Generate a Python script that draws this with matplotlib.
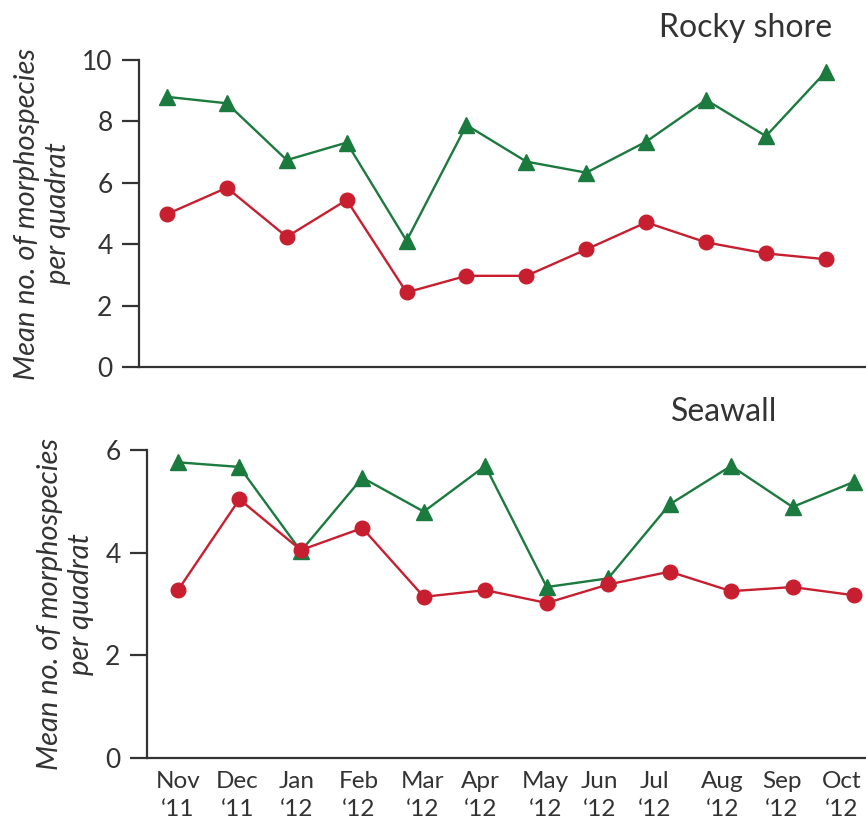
import matplotlib
matplotlib.use("Agg")
import matplotlib.pyplot as plt
import matplotlib.transforms as mtransforms
import numpy as np

months = ["Nov", "Dec", "Jan", "Feb", "Mar", "Apr", "May", "Jun", "Jul", "Aug", "Sep", "Oct"]
years = ["\u201811", "\u201811", "\u201812", "\u201812", "\u201812", "\u201812",
         "\u201812", "\u201812", "\u201812", "\u201812", "\u201812", "\u201812"]

rocky_green = [8.80, 8.59, 6.74, 7.31, 4.11, 7.88, 6.69, 6.33, 7.34, 8.70, 7.52, 9.62]
rocky_red = [4.98, 5.84, 4.24, 5.44, 2.43, 2.97, 2.97, 3.83, 4.71, 4.06, 3.70, 3.51]
seawall_green = [5.76, 5.67, 4.03, 5.46, 4.80, 5.69, 3.33, 3.50, 4.94, 5.69, 4.89, 5.38]
seawall_red = [3.27, 5.04, 4.05, 4.48, 3.14, 3.27, 3.02, 3.38, 3.63, 3.25, 3.33, 3.17]

GREEN = "#1b7a3e"
RED = "#c81f30"
INK = "#333333"

plt.rcParams['font.family'] = ['Lato', 'DejaVu Sans']

fig = plt.figure(figsize=(8.66, 8.21), dpi=100)
ax1 = fig.add_axes([139/866, 1 - 367/821, (866-139)/866, 307/821])
ax2 = fig.add_axes([147/866, 1 - 758/821, (866-147)/866, 308/821])

x = np.arange(len(months))

def style(ax, ymax, yticks, xlim):
    ax.set_xlim(*xlim)
    ax.set_ylim(0, ymax)
    ax.spines['top'].set_visible(False)
    ax.spines['right'].set_visible(False)
    for s in ('left', 'bottom'):
        ax.spines[s].set_color(INK)
        ax.spines[s].set_linewidth(1.6)
    ax.set_yticks(yticks)
    ax.tick_params(axis='y', length=12, width=1.6, color=INK, labelsize=19,
                   labelcolor=INK, pad=7)
    ax.set_ylabel("Mean no. of morphospecies\nper quadrat", fontsize=21,
                  style='italic', color=INK, labelpad=8, linespacing=1.25)

def draw(ax, g, r):
    ax.plot(x, g, color=GREEN, lw=1.7, marker='^', ms=11, mfc=GREEN, mec=GREEN, clip_on=False, zorder=3)
    ax.plot(x, r, color=RED, lw=1.7, marker='o', ms=10.5, mfc=RED, mec=RED, clip_on=False, zorder=4)

draw(ax1, rocky_green, rocky_red)
style(ax1, 10, [0, 2, 4, 6, 8, 10], (-0.467, 11.67))
ax1.set_xticks([])
ax1.text(832, 821 - 28, "Rocky shore", transform=None, ha='right', va='center',
         fontsize=23, color=INK)

draw(ax2, seawall_green, seawall_red)
style(ax2, 6, [0, 2, 4, 6], (-0.504, 11.195))
ax2.set_xticks([])

# two-line month labels under the lower panel; the last few nudged left to stay inside the figure
nudge_px = [0, -2, -4, -4, -1, -5, -1, -9, -15, -9, -11, -12]
base = mtransforms.blended_transform_factory(ax2.transData, fig.transFigure)
for xi, mon, yr, dx in zip(x, months, years, nudge_px):
    tr = base + mtransforms.ScaledTranslation(dx / 100, 0, fig.dpi_scale_trans)
    ax2.text(xi, 1 - 788/821, mon, transform=tr, ha='center', va='baseline',
             fontsize=17.5, color=INK)
    ax2.text(xi, 1 - 816/821, yr, transform=tr, ha='center', va='baseline',
             fontsize=17.5, color=INK)

ax2.text(777, 821 - 412, "Seawall", transform=None, ha='right', va='center',
         fontsize=23, color=INK)

fig.savefig("out.png", dpi=100)
